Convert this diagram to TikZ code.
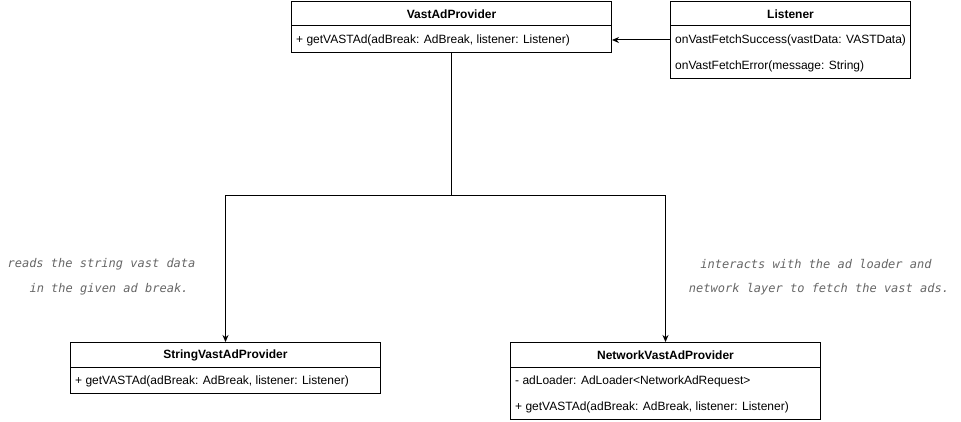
\documentclass[tikz,border=0pt]{standalone}
\usepackage{fontspec}
\setmainfont{Liberation Sans}
\newfontfamily\notefont{DejaVu Sans Mono}
\usetikzlibrary{arrows.meta}
\definecolor{notegray}{HTML}{666666}
\begin{document}
\begin{tikzpicture}[x=1pt,y=-1pt,
  classbox/.style={draw=black, line width=1pt, fill=white, rectangle, inner sep=0pt, anchor=north west},
  hdr/.style={font=\fontsize{12}{14}\selectfont\bfseries, inner sep=0pt},
  member/.style={font=\fontsize{12}{14}\selectfont, inner sep=0pt, anchor=west},
  note/.style={font=\notefont\itshape\fontsize{12}{14}\selectfont, text=notegray, inner sep=0pt},
  link/.style={draw=black, line width=1pt},
  arr/.style={link, -{Stealth[length=7pt,width=6pt]}}]
\useasboundingbox (0,0) rectangle (961,422);

% VastAdProvider
\node[classbox, minimum width=320pt, minimum height=51pt] (vap) at (291,1) {};
\draw[link] ([yshift=-25pt]vap.north west) -- ([yshift=-25pt]vap.north east);
\node[hdr] (vapT) at ([yshift=-13pt]vap.north) {VastAdProvider};
\node[member] (vapM) at ([xshift=5pt,yshift=-39pt]vap.north west) {+ getVASTAd(adBreak: AdBreak, listener: Listener)};

% Listener
\node[classbox, minimum width=240pt, minimum height=77pt] (lis) at (670,1) {};
\draw[link] ([yshift=-25pt]lis.north west) -- ([yshift=-25pt]lis.north east);
\node[hdr] (lisT) at ([yshift=-13pt]lis.north) {Listener};
\node[member] (lisM1) at ([xshift=5pt,yshift=-39pt]lis.north west) {onVastFetchSuccess(vastData: VASTData)};
\node[member] (lisM2) at ([xshift=5pt,yshift=-65pt]lis.north west) {onVastFetchError(message: String)};

% StringVastAdProvider
\node[classbox, minimum width=310pt, minimum height=51pt] (svap) at (70,342) {};
\draw[link] ([yshift=-25pt]svap.north west) -- ([yshift=-25pt]svap.north east);
\node[hdr] (svapT) at ([yshift=-13pt]svap.north) {StringVastAdProvider};
\node[member] (svapM) at ([xshift=5pt,yshift=-39pt]svap.north west) {+ getVASTAd(adBreak: AdBreak, listener: Listener)};

% NetworkVastAdProvider
\node[classbox, minimum width=310pt, minimum height=77pt] (nvap) at (510,342) {};
\draw[link] ([yshift=-25pt]nvap.north west) -- ([yshift=-25pt]nvap.north east);
\node[hdr] (nvapT) at ([yshift=-13pt]nvap.north) {NetworkVastAdProvider};
\node[member] (nvapA) at ([xshift=5pt,yshift=-39pt]nvap.north west) {- adLoader: AdLoader<NetworkAdRequest>};
\node[member] (nvapM) at ([xshift=5pt,yshift=-65pt]nvap.north west) {+ getVASTAd(adBreak: AdBreak, listener: Listener)};

% connectors
\draw[arr] (lis.west |- lisM1) -- (vap.east |- lisM1);
\coordinate (split) at (vap.south |- 0,196);
\draw[arr] (vap.south) -- (split) -| (svap.north);
\draw[arr] (split) -| (nvap.north);

% notes
\node[note] (n1a) at (101.5,264) {reads the string vast data};
\node[note] (n1b) at (109,289) {in the given ad break.};
\node[note] (n2a) at (816,264) {interacts with the ad loader and};
\node[note] (n2b) at (819,289) {network layer to fetch the vast ads.};
\end{tikzpicture}
\end{document}
